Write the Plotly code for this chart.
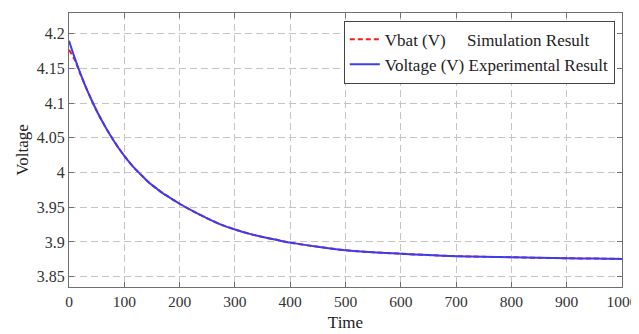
import plotly.graph_objects as go

time = [0, 10, 20, 30, 40, 50, 60, 70, 80, 90, 100, 110, 120, 130, 140, 150, 160, 170, 180, 190, 200,
        225, 250, 275, 300, 325, 350, 375, 400, 450, 500, 550, 600, 650, 700, 750, 800, 850, 900, 950, 1000]
v_experimental = [4.190, 4.166, 4.144, 4.124, 4.106, 4.089, 4.074, 4.060, 4.047, 4.035, 4.024,
                  4.014, 4.005, 3.997, 3.989, 3.982, 3.976, 3.970, 3.965, 3.960, 3.955,
                  3.944, 3.934, 3.925, 3.918, 3.912, 3.907, 3.903, 3.899, 3.893, 3.888,
                  3.885, 3.883, 3.881, 3.8795, 3.8785, 3.878, 3.877, 3.8765, 3.876, 3.8755]
v_simulation = [4.177, 4.163, 4.143, 4.124, 4.106, 4.089, 4.074, 4.060, 4.047, 4.035, 4.024,
                4.014, 4.005, 3.997, 3.989, 3.982, 3.976, 3.970, 3.965, 3.960, 3.955,
                3.944, 3.934, 3.925, 3.918, 3.912, 3.907, 3.903, 3.899, 3.893, 3.888,
                3.885, 3.883, 3.881, 3.8795, 3.8785, 3.878, 3.877, 3.8765, 3.876, 3.8755]

x_ticks = [0, 100, 200, 300, 400, 500, 600, 700, 800, 900, 1000]
y_ticks = [3.85, 3.9, 3.95, 4.0, 4.05, 4.1, 4.15, 4.2]
y_tick_labels = ["3.85", "3.9", "3.95", "4", "4.05", "4.1", "4.15", "4.2"]

nb = "\u00a0"
fig = go.Figure()
fig.add_trace(go.Scatter(x=time, y=v_simulation, mode="lines",
                         name="Vbat (V)" + nb * 5 + "Simulation Result",
                         line=dict(color="#ff1a1a", width=2, dash="5px,3px",
                                   shape="spline", smoothing=0.8)))
fig.add_trace(go.Scatter(x=time, y=v_experimental, mode="lines",
                         name="Voltage (V) Experimental Result",
                         line=dict(color="#3c3cf0", width=2, shape="spline", smoothing=0.8)))

axis_common = dict(showline=True, linecolor="#6f6f6f", linewidth=1, mirror="ticks",
                   ticks="inside", ticklen=5, tickcolor="#6f6f6f", automargin=False,
                   showgrid=True, gridcolor="#c4c4c4", griddash="7px,4px", gridwidth=1,
                   zeroline=False)

fig.update_xaxes(range=[0, 1000], tickvals=x_ticks, **axis_common,
                 tickfont=dict(family="Liberation Serif", size=15.5, color="#333333"),
                 title=dict(text="Time", font=dict(family="Liberation Serif", size=17, color="#222222"), standoff=7))
fig.update_yaxes(range=[3.835, 4.23], tickvals=y_ticks, ticktext=y_tick_labels, **axis_common,
                 tickfont=dict(family="Liberation Serif", size=16, color="#333333"),
                 title=dict(text="Voltage", font=dict(family="Liberation Serif", size=17, color="#222222"), standoff=3))

# page body adds an 8px offset, so the figure is sized to fit the 639x334 window
fig.update_layout(width=631, height=326, margin=dict(l=61, r=17, t=5, b=47),
                  plot_bgcolor="white", paper_bgcolor="white",
                  font=dict(family="Liberation Serif"),
                  legend=dict(x=0.987, y=0.972, xanchor="right", yanchor="top",
                              bgcolor="white", bordercolor="#444444", borderwidth=1,
                              font=dict(family="Liberation Serif", size=17, color="#222222"),
                              tracegroupgap=0, itemwidth=30))

fig.write_html("out.html")
